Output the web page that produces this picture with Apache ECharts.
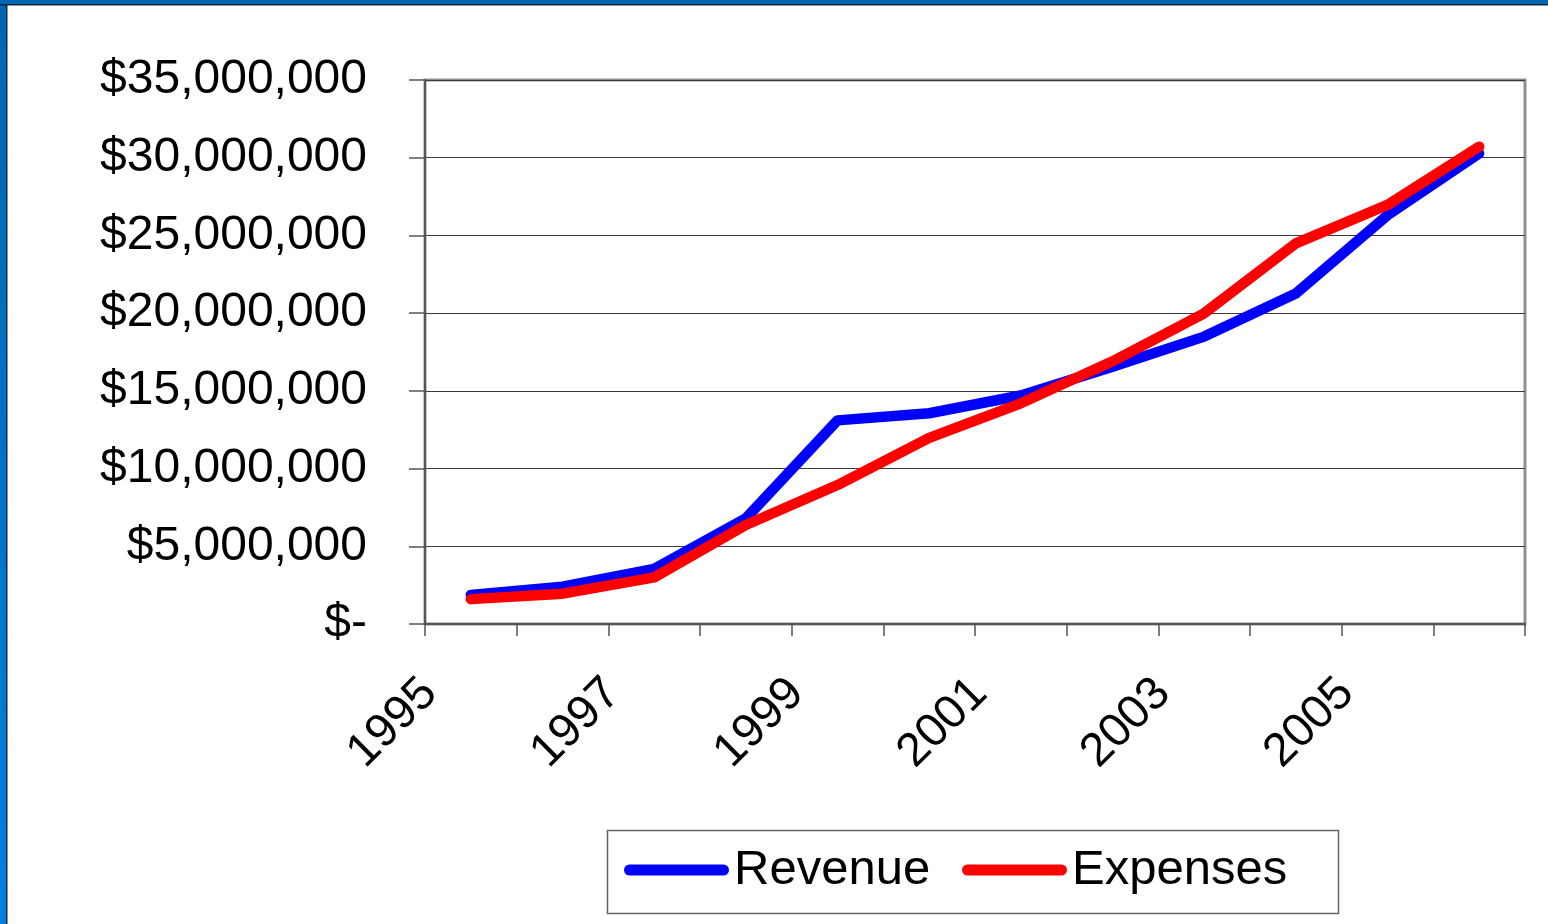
<!DOCTYPE html>
<html>
<head>
<meta charset="utf-8">
<script src="https://cdn.jsdelivr.net/npm/echarts@6/dist/echarts.min.js"></script>
<style>
html,body{margin:0;padding:0;background:#fff;}
#chart{width:1548px;height:924px;}
</style>
</head>
<body>
<div id="chart"></div>
<script>
var years = ['1995','1996','1997','1998','1999','2000','2001','2002','2003','2004','2005','2006'];
var revenue = [1870000, 2400000, 3550000, 6800000, 13100000, 13560000, 14700000, 16550000, 18490000, 21270000, 26300000, 30280000];
var expenses = [1600000, 1950000, 3000000, 6370000, 8940000, 11970000, 14200000, 16900000, 19990000, 24490000, 26960000, 30710000];
var seriesNames = ['Revenue', 'Expenses'];
var yMin = 0, yMax = 35000000, yStep = 5000000;

var FONT = '"Liberation Sans", Arial, sans-serif';
var chart = echarts.init(document.getElementById('chart'), null, {renderer: 'canvas'});
var capsule = 'path://M5.5,0H99.5A5.5,5.5,0,0,1,99.5,11H5.5A5.5,5.5,0,0,1,5.5,0Z';

function legendItem(name, left, gap) {
  return {
    data: [name],
    left: left, top: 845,
    orient: 'horizontal',
    padding: 0,
    itemWidth: 105, itemHeight: 11,
    itemTextGap: gap,
    icon: capsule,
    selectedMode: false,
    textStyle: {fontFamily: FONT, fontSize: 49, color: '#000', lineHeight: 50}
  };
}

chart.setOption({
  backgroundColor: '#ffffff',
  animation: false,
  graphic: [
    {type: 'rect', left: 0, top: 0, shape: {width: 1548, height: 5}, style: {fill: '#0066b3'}, z: 100},
    {type: 'rect', left: 0, top: 4, shape: {width: 1548, height: 1.5}, style: {fill: '#102a40'}, z: 101},
    {type: 'rect', left: 0, top: 0, shape: {width: 7, height: 924},
      style: {fill: new echarts.graphic.LinearGradient(0, 0, 0, 1, [{offset: 0, color: '#0066b3'}, {offset: 1, color: '#0082dc'}])}, z: 100},
    {type: 'rect', left: 6, top: 4, shape: {width: 1.5, height: 920}, style: {fill: '#102a40'}, z: 101},
    {type: 'rect', shape: {x: 607.5, y: 830.5, width: 731, height: 83},
      style: {fill: 'none', stroke: '#666666', lineWidth: 1.5}, z: 5}
  ],
  grid: {left: 425, right: 23, top: 80, bottom: 300, show: true, borderColor: '#8f8f8f', borderWidth: 3},
  legend: [legendItem(seriesNames[0], 624, 18), legendItem(seriesNames[1], 962, 14)],
  xAxis: {
    type: 'category',
    data: years,
    boundaryGap: true,
    axisLine: {lineStyle: {color: '#555', width: 2}},
    axisTick: {show: true, interval: 0, length: 12, lineStyle: {color: '#555', width: 1.5}},
    axisLabel: {
      interval: 1, rotate: 45, margin: 21, padding: [0, 58, 0, 0],
      fontFamily: FONT, fontSize: 47, color: '#000'
    },
    splitLine: {show: false}
  },
  yAxis: {
    type: 'value',
    min: yMin, max: yMax, interval: yStep,
    axisLine: {show: true, lineStyle: {color: '#555', width: 2}},
    axisTick: {show: true, length: 16, lineStyle: {color: '#555', width: 1.5}},
    axisLabel: {
      margin: 58, fontFamily: FONT, fontSize: 48, color: '#000',
      formatter: function (v) { return v === 0 ? '$-' : '$' + v.toLocaleString('en-US'); }
    },
    splitLine: {show: true, lineStyle: {color: '#3a3a3a', width: 1}}
  },
  series: [
    {
      name: seriesNames[0], type: 'line', data: revenue,
      symbol: 'none', color: '#0000ff',
      itemStyle: {color: '#0000ff'},
      lineStyle: {color: '#0000ff', width: 10.5, cap: 'round', join: 'round'}
    },
    {
      name: seriesNames[1], type: 'line', data: expenses,
      symbol: 'none', color: '#ff0000',
      itemStyle: {color: '#ff0000'},
      lineStyle: {color: '#ff0000', width: 10.5, cap: 'round', join: 'round'}
    }
  ]
});
</script>
</body>
</html>
